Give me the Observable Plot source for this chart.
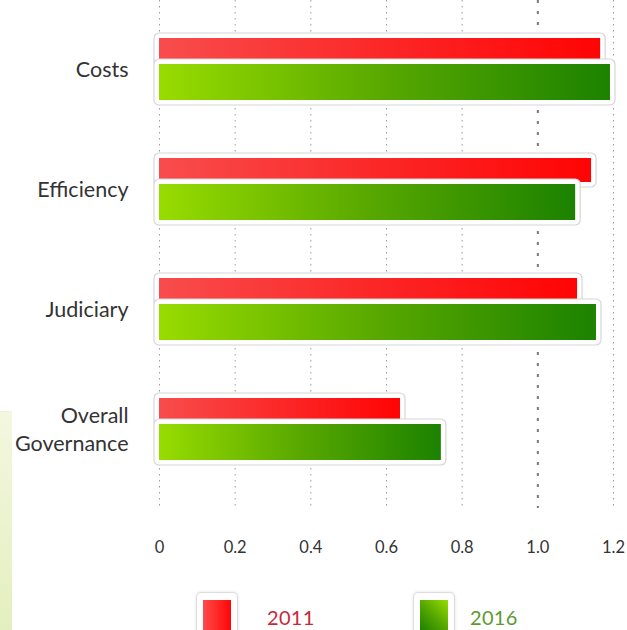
<!DOCTYPE html>
<html>
<head>
<meta charset="utf-8">
<script src="https://cdn.jsdelivr.net/npm/d3@7"></script>
<script src="https://cdn.jsdelivr.net/npm/@observablehq/plot@0.6"></script>
<style>
  html, body { margin: 0; padding: 0; background: #fff; width: 627px; height: 630px; overflow: hidden; }
  #wrap { position: relative; width: 627px; height: 630px; font-family: Lato, "Open Sans", sans-serif; }
  #leftstrip { position: absolute; left: 0; top: 411px; width: 12px; height: 219px;
    background: linear-gradient(180deg, #f3f7df, #e4efbf); border-top: 1px solid #eef2dc; }
  .lbox { position: absolute; width: 40px; height: 48px; background: #fff; border: 1px solid #ddd; border-radius: 5px; box-shadow: 0 0 3px rgba(0,0,0,0.12); }
  .lsq { position: absolute; width: 28px; height: 30px; }
  .ltxt { position: absolute; font-size: 20px; line-height: 1; letter-spacing: 0.3px; }
</style>
</head>
<body>
<div id="wrap">
  <div id="leftstrip"></div>
  <div id="chart"></div>
  <div id="legend"></div>
</div>
<script>
const categories = ["Costs", "Efficiency", "Judiciary", "Overall Governance"];
const years = ["2011", "2016"];
const values2011 = [1.166, 1.142, 1.105, 0.637];
const values2016 = [1.192, 1.100, 1.155, 0.745];
const xTicks = [0, 0.2, 0.4, 0.6, 0.8, 1.0, 1.2];
const yearColors = ["#c8283c", "#5c9a2e"];

const d2011 = categories.map((c, i) => ({cat: c, year: years[0], v: values2011[i]}));
const d2016 = categories.map((c, i) => ({cat: c, year: years[1], v: values2016[i]}));

const svg = Plot.plot({
  width: 627,
  height: 570,
  marginLeft: 159,
  marginRight: 14,
  marginTop: 0,
  marginBottom: 62,
  style: {fontFamily: "Lato, 'Open Sans', sans-serif", background: "transparent", color: "#333"},
  x: {domain: [0, 1.2], label: null},
  y: {domain: categories, range: [8, 488], padding: 0, label: null},
  marks: [
    Plot.ruleX(xTicks.filter(t => t !== 1), {stroke: "#9a9a9a", strokeWidth: 1, strokeDasharray: "1.5,4.5"}),
    Plot.ruleX([1.0], {stroke: "#7a7a7a", strokeWidth: 2, strokeDasharray: "3,8"}),
    Plot.barX(d2011, {x: "v", y: "cat", insetTop: 25, insetBottom: 61, insetLeft: -5, insetRight: -5, fill: "#fff", stroke: "#d6d6d6", strokeWidth: 1.2, rx: 5}),
    Plot.barX(d2011, {x: "v", y: "cat", insetTop: 30, insetBottom: 66, fill: "url(#g2011)"}),
    Plot.barX(d2016, {x: "v", y: "cat", insetTop: 51, insetBottom: 23, insetLeft: -5, insetRight: -5, fill: "#fff", stroke: "#d6d6d6", strokeWidth: 1.2, rx: 5}),
    Plot.barX(d2016, {x: "v", y: "cat", insetTop: 56, insetBottom: 28, fill: "url(#g2016)"}),
    Plot.axisX({ticks: xTicks, tickSize: 0, tickPadding: 33, fontSize: 16.5, label: null,
      tickFormat: d => d === 0 ? "0" : d.toFixed(1)}),
    Plot.axisY({tickSize: 0, tickPadding: 31, fontSize: 21.5, lineHeight: 1.3, label: null,
      tickFormat: d => d === "Overall Governance" ? "Overall\nGovernance" : d})
  ]
});

const defs = document.createElementNS("http://www.w3.org/2000/svg", "defs");
defs.innerHTML = `
  <linearGradient id="g2011" x1="0" y1="0" x2="1" y2="0">
    <stop offset="0" stop-color="#f84c4c"/>
    <stop offset="1" stop-color="#ff0404"/>
  </linearGradient>
  <linearGradient id="g2016" x1="0" y1="0" x2="1" y2="0">
    <stop offset="0" stop-color="#98dc00"/>
    <stop offset="0.5" stop-color="#58a800"/>
    <stop offset="1" stop-color="#1c8200"/>
  </linearGradient>`;
svg.insertBefore(defs, svg.firstChild);
document.getElementById("chart").appendChild(svg);

// legend
const legend = document.getElementById("legend");
const items = [
  {label: years[0], boxX: 196, txtX: 267, grad: "linear-gradient(90deg,#ff4c4c,#ff0606)", color: yearColors[0]},
  {label: years[1], boxX: 413, txtX: 470, grad: "linear-gradient(45deg,#1c8200,#58a800,#98dc00)", color: yearColors[1]}
];
items.forEach(it => {
  const b = document.createElement("div");
  b.className = "lbox";
  b.style.left = it.boxX + "px";
  b.style.top = "592px";
  legend.appendChild(b);
  const s = document.createElement("div");
  s.className = "lsq";
  s.style.left = (it.boxX + 7) + "px";
  s.style.top = "600px";
  s.style.background = it.grad;
  legend.appendChild(s);
  const t = document.createElement("div");
  t.className = "ltxt";
  t.style.left = it.txtX + "px";
  t.style.top = "607px";
  t.style.color = it.color;
  t.textContent = it.label;
  legend.appendChild(t);
});
</script>
</body>
</html>
